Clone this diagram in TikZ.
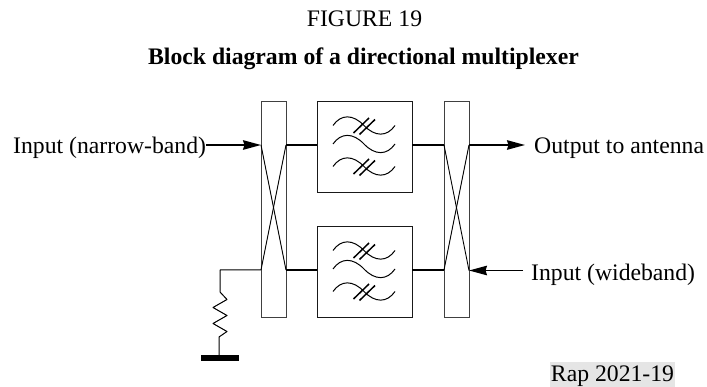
\documentclass[tikz,border=0pt]{standalone}
\usepackage{fontspec}
\setmainfont{Liberation Serif}
\usetikzlibrary{arrows.meta}
\tikzset{
    coupler/.style={draw=black!75,line width=1pt,minimum width=25pt,minimum height=216pt,inner sep=0pt,outer sep=0pt},
    filterbox/.style={draw=black!90,line width=1pt,minimum width=95pt,minimum height=90.5pt,inner sep=0pt,outer sep=0pt},
    label/.style={font=\fontsize{23.7}{26}\selectfont,inner sep=0pt},
    feed/.style={line width=1.7pt},
    feedarrow/.style={line width=1.7pt,-{Stealth[length=18pt,width=9.5pt,inset=1.5pt]}},
    cross/.style={line width=0.9pt},
    wave/.style={line width=1pt},
    bar/.style={line width=1.5pt}
}
\newcommand{\wavy}[2]{
    \draw[wave] (#1+16,#2) .. controls (#1+24,#2-11.5) and (#1+36,#2-11.5) .. (#1+47,#2)
    .. controls (#1+58,#2+11.5) and (#1+70,#2+11.5) .. (#1+78,#2);
}
\newcommand{\ticks}[2]{
    \draw[bar] (#1+36.5,#2+7.5) -- (#1+52,#2-7.5);
    \draw[bar] (#1+42.5,#2+9) -- (#1+58,#2-6);
}
\newcommand{\filt}[3]{
    \node[filterbox,anchor=north west] (#1) at (#2,#3) {};
    \wavy{#2}{#3+23.5}
    \wavy{#2}{#3+42}
    \wavy{#2}{#3+64.5}
    \ticks{#2}{#3+23.5}
    \ticks{#2}{#3+64.5}
}
\begin{document}
\begin{tikzpicture}[x=1pt,y=-1pt]
    \useasboundingbox (0,0) rectangle (707,387);
    \node[label] (title) at (364.5,19) {FIGURE 19};
    \node[label,font=\fontsize{23.7}{26}\selectfont\bfseries] (heading) at (363.5,58.5) {Block diagram of a directional multiplexer};
    % couplers
    \node[coupler,anchor=north west] (cleft) at (261,102) {};
    \node[coupler,anchor=north west] (cright) at (444,102) {};
    \filt{fone}{317}{102}
    \filt{ftwo}{317}{227}
    \coordinate (la) at (261,145);
    \coordinate (lb) at (286,145);
    \coordinate (lc) at (261,270);
    \coordinate (ld) at (286,270);
    \coordinate (ra) at (444,145);
    \coordinate (rb) at (469,145);
    \coordinate (rc) at (444,270);
    \coordinate (rd) at (469,270.5);
    \draw[cross] (la) -- (ld);
    \draw[cross] (lb) -- (lc);
    \draw[cross] (ra) -- (rd);
    \draw[cross] (rb) -- (rc);
    % inputs and output
    \node[label,anchor=west] (narrow) at (13,148) {Input (narrow-band)};
    \node[label,anchor=west] (antenna) at (534,148) {Output to antenna};
    \node[label,anchor=west] (wide) at (531,275) {Input (wideband)};
    \coordinate (outend) at (525,145);
    \coordinate (inend) at (523,270.5);
    \draw[feedarrow] (narrow.east |- la) -- (la);
    \draw[feedarrow] (rb) -- (outend);
    \draw[feedarrow] (inend) -- (rd);
    % between the blocks
    \draw[feed] (lb) -- (fone.west |- lb);
    \draw[feed] (fone.east |- ra) -- (ra);
    \draw[feed] (ld) -- (ftwo.west |- ld);
    \draw[feed] (ftwo.east |- rc) -- (rc);
    % load
    \node[fill=black,minimum width=38pt,minimum height=6pt,inner sep=0pt,anchor=north west] (ground) at (201,355) {};
    \draw[line width=1pt,line join=round] (lc) -- (220,270) -- (220,292) -- (227,299.5) -- (213,307.5)
    -- (227,315.5) -- (213,323.5) -- (227,331.5) -- (219,337) -- (219,355);
    % reference
    \node[fill=black!10,minimum width=125pt,minimum height=25pt,inner sep=0pt] (rapbox) at (612.5,374.5) {};
    \node[label] (rap) at (612.5,376) {Rap 2021-19};
\end{tikzpicture}
\end{document}
